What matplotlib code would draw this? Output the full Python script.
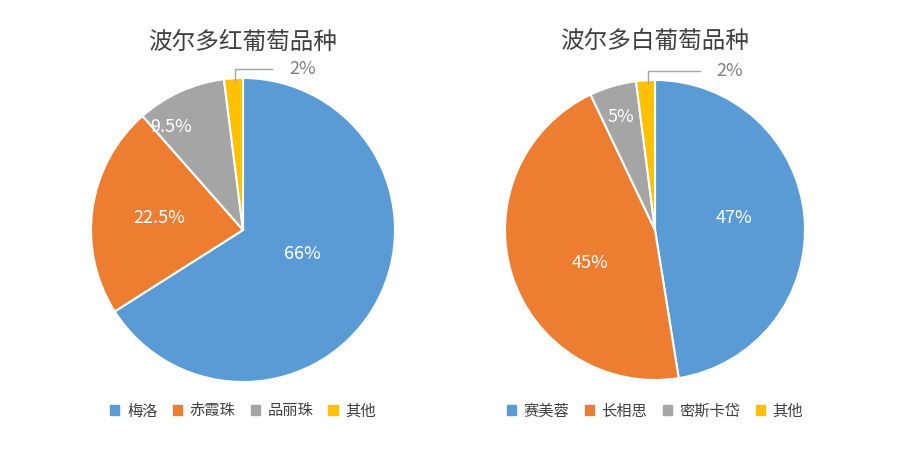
import matplotlib
matplotlib.use("Agg")
import matplotlib.pyplot as plt

plt.rcParams['font.family'] = ['Noto Sans CJK SC', 'DejaVu Sans']

red_names = ['梅洛', '赤霞珠', '品丽珠', '其他']
red_vals = [66, 22.5, 9.5, 2]
red_labels = ['66%', '22.5%', '9.5%', '2%']
white_names = ['赛美蓉', '长相思', '密斯卡岱', '其他']
white_vals = [47, 45, 5, 2]
white_labels = ['47%', '45%', '5%', '2%']
colors = ['#5B9BD5', '#ED7D31', '#A5A5A5', '#FFC000']

fig = plt.figure(figsize=(9, 4.5), dpi=100)

def draw(cx, cy, r, title, names, vals, labels, label_pos, small_x, leg_x):
    w, h = 2 * r / 900, 2 * r / 450
    ax = fig.add_axes([cx / 900 - w / 2, 1 - cy / 450 - h / 2, w, h])
    ax.pie(vals, colors=colors, startangle=90, counterclock=False,
           wedgeprops=dict(edgecolor='white', linewidth=1.5))
    ax.set_xlim(-1, 1)
    ax.set_ylim(-1, 1)
    ax.set_aspect('equal')
    for lab, (x, y) in zip(labels[:-1], label_pos):
        ax.text(x, y, lab, color='white', fontsize=13, ha='center', va='center')
    # small slice label with leader line
    ax.plot([-0.05, -0.05, small_x - 0.2], [0.98, 1.06, 1.06], color='#A5A5A5', lw=1, clip_on=False)
    ax.text(small_x, 1.06, labels[-1], color='#7F7F7F', fontsize=13, ha='center', va='center')
    fig.text(cx / 900, 1 - 42 / 450, title, fontsize=17, ha='center', va='center', color='#404040')
    handles = [plt.Rectangle((0, 0), 1, 1, color=c) for c in colors]
    fig.legend(handles, names, loc='center', bbox_to_anchor=(leg_x / 900, 1 - 411 / 450),
               ncol=4, frameon=False, fontsize=11, handlelength=0.6, handleheight=0.6,
               columnspacing=1.0, handletextpad=0.5, labelcolor='#404040')

draw(243, 230, 152, '波尔多红葡萄品种', red_names, red_vals, red_labels,
     [(0.39, -0.16), (-0.55, 0.08), (-0.47, 0.68)], 0.39, 243)
draw(655, 230, 150, '波尔多白葡萄品种', white_names, white_vals, white_labels,
     [(0.53, 0.08), (-0.43, -0.22), (-0.23, 0.75)], 0.5, 655)

fig.savefig('out.png', dpi=100, facecolor='white')
